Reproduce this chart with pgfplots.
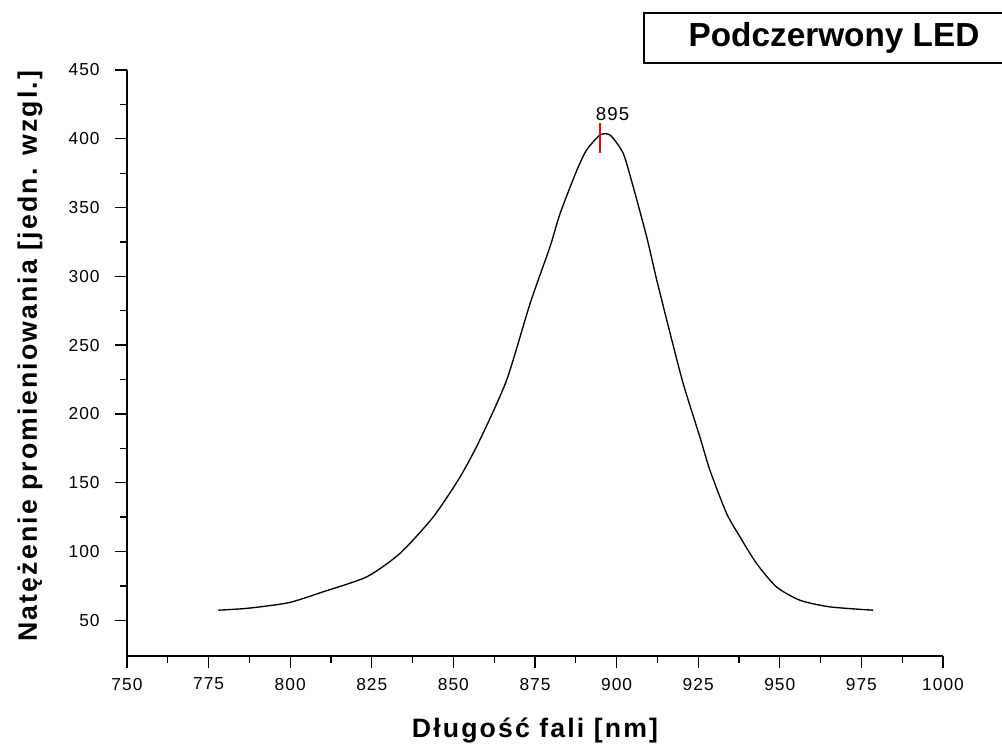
\documentclass[border=0pt]{standalone}
\usepackage{fontspec}
\setmainfont{Liberation Sans}
\newfontfamily\labfont[LetterSpace=8]{Liberation Sans}
\newfontfamily\tickfont[LetterSpace=6]{Liberation Sans}
\usepackage{pgfplots}
\pgfplotsset{compat=1.18}

\begin{document}
\begin{tikzpicture}
% page size: 1002x747 px at 0.75pt per px, axis origin at (127,656) px
\useasboundingbox (-95.25pt,-68.25pt) rectangle (656.25pt,492pt);
\begin{axis}[
  at={(0,0)}, anchor=south west,
  scale only axis, width=612pt, height=439.5pt,
  xmin=750, xmax=1000, ymin=24, ymax=450,
  axis x line*=bottom, axis y line*=left,
  axis line style={line width=1.2pt, -},
  xtick={750,775,...,1000}, ytick={50,100,...,450},
  minor tick num=1,
  tick align=outside,
  major tick length=9pt, minor tick length=5pt,
  every tick/.style={black, line width=1pt},
  /pgf/number format/assume math mode=true,
  /pgf/number format/1000 sep={},
  ticklabel style={font=\tickfont\fontsize{13}{13}\selectfont},
  yticklabel style={xshift=-8pt},
  xticklabel style={yshift=-4pt},
  xlabel={Długość fali [nm]},
  ylabel={Natężenie promieniowania [jedn. wzgl.]},
  xlabel style={at={(rel axis cs:0.5,0)}, anchor=base, yshift=-60.75pt,
    font=\labfont\bfseries\fontsize{20}{20}\selectfont},
  % rotated frame: yshift moves left, xshift moves up
  ylabel style={at={(rel axis cs:0,0.5)}, anchor=base, yshift=67.5pt, xshift=5pt,
    font=\labfont\bfseries\fontsize{20}{20}\selectfont},
]
\addplot[black, line width=1pt, smooth, tension=0.4] coordinates {
  (778,57.3) (785,58.3) (790.7,59.7) (800,63) (810,70.6) (823.4,81.5)
  (833.6,98.5) (843.8,125) (852,154) (858.1,181) (866.3,224.5)
  (873.5,280.3) (879.6,321.5) (882.7,345.8) (887.8,377) (890.8,391.8)
  (894.9,402.7) (898,402.7) (902,389.5) (905.1,365) (909.2,328.8)
  (912.3,297.3) (916.4,258.5) (920.4,222) (925.5,183.3) (928.6,159)
  (933.7,127.6) (937.8,110.6) (942.9,91.2) (949,74.2) (956.2,64.5)
  (965.4,59.7) (978.6,57.3)
};
% peak marker
\addplot[red, line width=1.2pt] coordinates {(895,390) (895,411.5)};
\node[anchor=south west, inner sep=0pt, font=\tickfont\fontsize{14}{14}\selectfont]
  at (axis cs:893.6,413) {895};
\end{axis}
\draw[line width=0.8pt] (387.75pt,444.75pt) rectangle (720pt,482.25pt);
\node[font=\bfseries\fontsize{25}{25}\selectfont] at (530.25pt,463.5pt) {Podczerwony LED};
\end{tikzpicture}
\end{document}
